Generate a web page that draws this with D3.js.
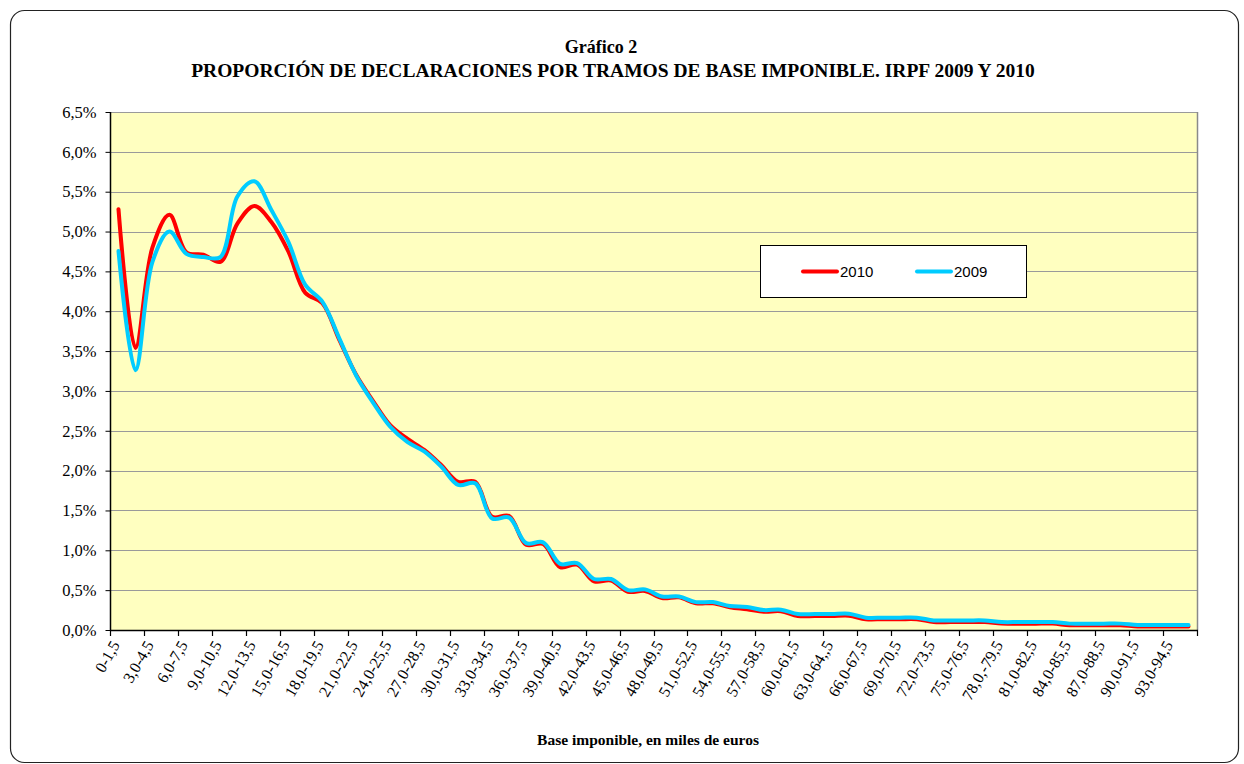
<!DOCTYPE html>
<html>
<head>
<meta charset="utf-8">
<script src="https://cdn.jsdelivr.net/npm/d3@7/dist/d3.min.js"></script>
<style>
  html, body { margin: 0; padding: 0; background: #ffffff; }
  svg { display: block; }
</style>
</head>
<body>
<svg id="chart" width="1244" height="764"></svg>
<script>
// ---------- DATA ----------
const categories = [
  "0-1,5","1,5-3,0","3,0-4,5","4,5-6,0","6,0-7,5","7,5-9,0","9,0-10,5","10,5-12,0",
  "12,0-13,5","13,5-15,0","15,0-16,5","16,5-18,0","18,0-19,5","19,5-21,0","21,0-22,5","22,5-24,0",
  "24,0-25,5","25,5-27,0","27,0-28,5","28,5-30,0","30,0-31,5","31,5-33,0","33,0-34,5","34,5-36,0",
  "36,0-37,5","37,5-39,0","39,0-40,5","40,5-42,0","42,0-43,5","43,5-45,0","45,0-46,5","46,5-48,0",
  "48,0-49,5","49,5-51,0","51,0-52,5","52,5-54,0","54,0-55,5","55,5-57,0","57,0-58,5","58,5-60,0",
  "60,0-61,5","61,5-63,0","63,0-64,,5","64,5-66,0","66,0-67,5","67,5-69,0","69,0-70,5","70,5-72,0",
  "72,0-73,5","73,5-75,0","75,0-76,5","76,5-78,0","78,0,-79,5","79,5-81,0","81,0-82,5","82,5-84,0",
  "84,0-85,5","85,5-87,0","87,0-88,5","88,5-90,0","90,0-91,5","91,5-93,0","93,0-94,5","94,5-96,0"
];

const series2010 = [
  5.28, 3.54, 4.80, 5.21, 4.74, 4.71, 4.62, 5.10, 5.32, 5.12, 4.75, 4.23, 4.10, 3.64, 3.20, 2.87,
  2.57, 2.40, 2.26, 2.07, 1.86, 1.86, 1.42, 1.43, 1.07, 1.08, 0.79, 0.82, 0.61, 0.62, 0.48, 0.49,
  0.40, 0.41, 0.335, 0.335, 0.285, 0.26, 0.23, 0.235, 0.175, 0.175, 0.175, 0.18, 0.135, 0.135, 0.135, 0.135,
  0.10, 0.10, 0.10, 0.10, 0.08, 0.08, 0.08, 0.08, 0.06, 0.06, 0.06, 0.06, 0.045, 0.045, 0.045, 0.045
];

const series2009 = [
  4.755, 3.26, 4.62, 5.00, 4.72, 4.68, 4.68, 5.44, 5.63, 5.27, 4.87, 4.33, 4.12, 3.66, 3.19, 2.85,
  2.55, 2.36, 2.24, 2.05, 1.82, 1.84, 1.40, 1.41, 1.09, 1.10, 0.83, 0.84, 0.64, 0.64, 0.50, 0.51,
  0.42, 0.42, 0.35, 0.35, 0.30, 0.29, 0.25, 0.255, 0.20, 0.20, 0.20, 0.205, 0.155, 0.155, 0.155, 0.155,
  0.12, 0.12, 0.12, 0.12, 0.10, 0.10, 0.10, 0.10, 0.08, 0.08, 0.08, 0.08, 0.063, 0.063, 0.063, 0.063
];

const yTicks = [0, 0.5, 1.0, 1.5, 2.0, 2.5, 3.0, 3.5, 4.0, 4.5, 5.0, 5.5, 6.0, 6.5];
const seriesNames = ["2010", "2009"];
const titleLines = ["Gráfico 2", "PROPORCIÓN DE DECLARACIONES POR TRAMOS DE BASE IMPONIBLE. IRPF 2009 Y 2010"];
const xAxisTitle = "Base imponible, en miles de euros";

// ---------- LAYOUT ----------
const W = 1244, H = 764;
const plot = { left: 110, top: 112, right: 1197, bottom: 630 };
const colors = { "2010": "#ff0000", "2009": "#00ccff" };
const serif = "'Liberation Serif', 'Times New Roman', serif";
const sans = "'Liberation Sans', Arial, sans-serif";

const svg = d3.select("#chart");

// outer frame
svg.append("rect")
  .attr("x", 10.5).attr("y", 10.5)
  .attr("width", 1228).attr("height", 752)
  .attr("rx", 14).attr("ry", 14)
  .attr("fill", "#ffffff")
  .attr("stroke", "#222").attr("stroke-width", 1.2);

// scales
const x = d3.scaleBand().domain(categories).range([plot.left, plot.right]).padding(0);
const y = d3.scaleLinear().domain([0, 6.5]).range([plot.bottom, plot.top]);
const cx = d => x(d) + x.bandwidth() / 2;

// plot background
svg.append("rect")
  .attr("x", plot.left).attr("y", plot.top)
  .attr("width", plot.right - plot.left).attr("height", plot.bottom - plot.top)
  .attr("fill", "#ffffc0");

// gridlines
svg.append("g").selectAll("line")
  .data(yTicks.filter(t => t > 0))
  .join("line")
  .attr("x1", plot.left).attr("x2", plot.right)
  .attr("y1", d => Math.round(y(d)) + 0.5).attr("y2", d => Math.round(y(d)) + 0.5)
  .attr("stroke", "#9a9a9a").attr("stroke-width", 1);

// right border of plot area
svg.append("line")
  .attr("x1", plot.right + 0.5).attr("x2", plot.right + 0.5)
  .attr("y1", plot.top).attr("y2", plot.bottom)
  .attr("stroke", "#8a8a8a").attr("stroke-width", 1.5);

// Y axis
const yAxis = d3.axisLeft(y)
  .tickValues(yTicks)
  .tickSize(5)
  .tickPadding(9)
  .tickFormat(d => d3.format(".1f")(d).replace(".", ",") + "%");
const gy = svg.append("g")
  .attr("transform", `translate(${plot.left + 0.5},0)`)
  .call(yAxis);
gy.select(".domain").attr("stroke", "#000").attr("stroke-width", 1.5).attr("d", `M0,${plot.top}V${plot.bottom}`);
gy.selectAll(".tick line").attr("stroke", "#000");
gy.selectAll(".tick text")
  .attr("font-family", serif).attr("font-size", 16.5).attr("fill", "#000");

// X axis baseline
svg.append("line")
  .attr("x1", plot.left).attr("x2", plot.right + 1)
  .attr("y1", plot.bottom + 0.5).attr("y2", plot.bottom + 0.5)
  .attr("stroke", "#000").attr("stroke-width", 1.5);

// X tick marks every two categories (at band boundaries)
const tickCats = categories.filter((c, i) => i % 2 === 0);
const tickPositions = tickCats.map(c => x(c)).concat([plot.right]);
svg.append("g").selectAll("line")
  .data(tickPositions)
  .join("line")
  .attr("x1", d => Math.round(d) + 0.5).attr("x2", d => Math.round(d) + 0.5)
  .attr("y1", plot.bottom).attr("y2", plot.bottom + 6)
  .attr("stroke", "#000").attr("stroke-width", 1.2);

// X labels (every other category, rotated)
svg.append("g").selectAll("text")
  .data(tickCats)
  .join("text")
  .attr("transform", d => `translate(${cx(d) - 3},${plot.bottom + 12}) rotate(-60)`)
  .attr("text-anchor", "end")
  .attr("dy", "0.35em")
  .attr("font-family", serif).attr("font-size", 16).attr("fill", "#000")
  .text(d => d);

// lines
const line = d3.line()
  .x((d, i) => cx(categories[i]))
  .y(d => y(d))
  .curve(d3.curveCatmullRom.alpha(0.5));

svg.append("path").datum(series2010)
  .attr("d", line).attr("fill", "none")
  .attr("stroke", colors["2010"]).attr("stroke-width", 4).attr("stroke-linejoin", "round").attr("stroke-linecap", "round");
svg.append("path").datum(series2009)
  .attr("d", line).attr("fill", "none")
  .attr("stroke", colors["2009"]).attr("stroke-width", 4).attr("stroke-linejoin", "round").attr("stroke-linecap", "round");

// legend
const lg = svg.append("g");
lg.append("rect")
  .attr("x", 760.5).attr("y", 245.5).attr("width", 266).attr("height", 52)
  .attr("fill", "#ffffff").attr("stroke", "#000").attr("stroke-width", 1);
const legendItems = [
  { name: seriesNames[0], x0: 803, x1: 837 },
  { name: seriesNames[1], x0: 917, x1: 951 }
];
legendItems.forEach(it => {
  lg.append("line")
    .attr("x1", it.x0).attr("x2", it.x1).attr("y1", 271.5).attr("y2", 271.5)
    .attr("stroke", colors[it.name]).attr("stroke-width", 4).attr("stroke-linecap", "round");
  lg.append("text")
    .attr("x", it.x1 + 3).attr("y", 277)
    .attr("font-family", sans).attr("font-size", 15).attr("fill", "#000")
    .text(it.name);
});

// titles
svg.append("text")
  .attr("x", 601).attr("y", 53)
  .attr("text-anchor", "middle")
  .attr("font-family", serif).attr("font-weight", "bold").attr("font-size", 18)
  .text(titleLines[0]);
svg.append("text")
  .attr("x", 613).attr("y", 77)
  .attr("text-anchor", "middle")
  .attr("font-family", serif).attr("font-weight", "bold").attr("font-size", 19.5)
  .text(titleLines[1]);

svg.append("text")
  .attr("x", 648).attr("y", 745)
  .attr("text-anchor", "middle")
  .attr("font-family", serif).attr("font-weight", "bold").attr("font-size", 15.5)
  .text(xAxisTitle);
</script>
</body>
</html>
